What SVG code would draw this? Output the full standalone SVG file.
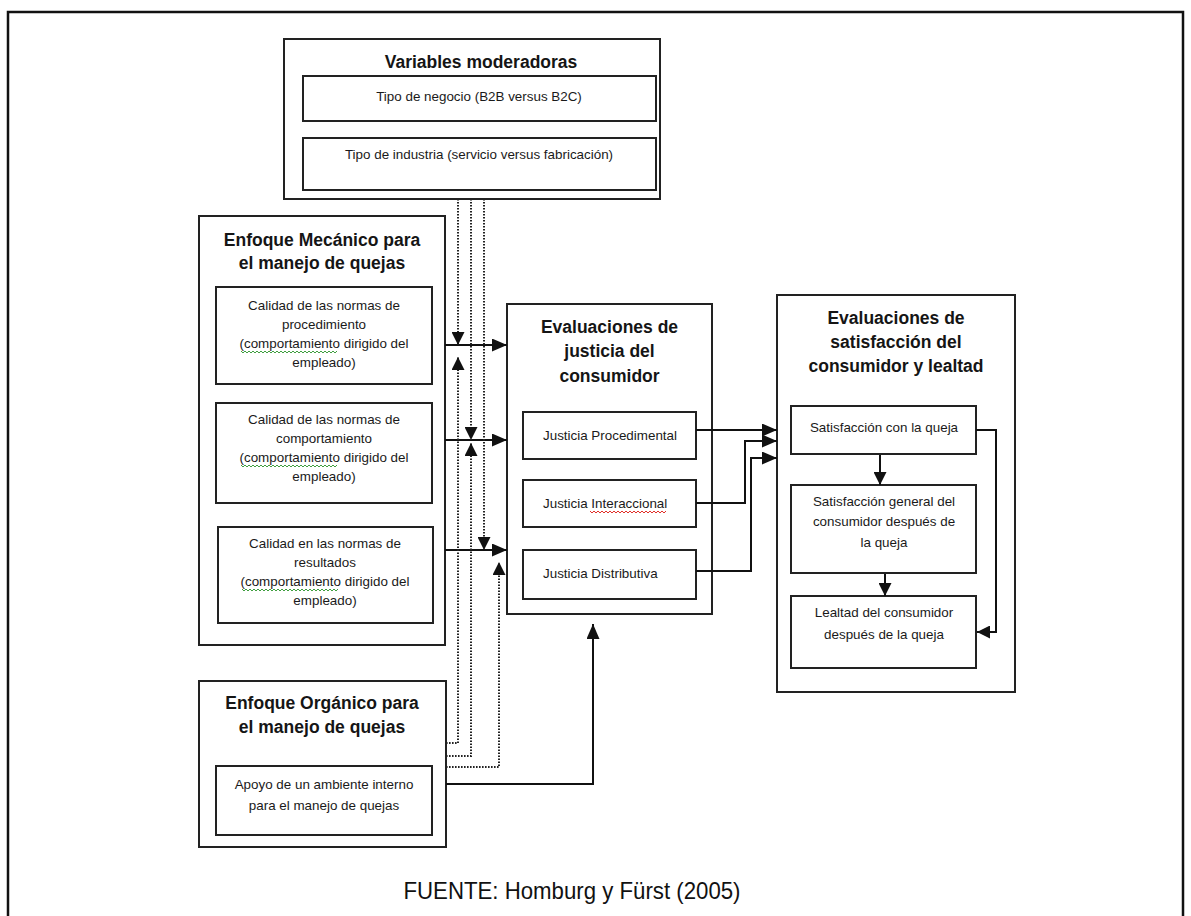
<svg xmlns="http://www.w3.org/2000/svg" width="1191" height="916" viewBox="0 0 1191 916">
  <style>
    .frame { fill: none; stroke: #111; stroke-width: 2.5; }
    .outer { fill: #fff; stroke: #222; stroke-width: 2; }
    .inner { fill: #fff; stroke: #222; stroke-width: 2; }
    .title { font-family: "Liberation Sans", Arial, sans-serif; font-weight: bold; font-size: 17.5px; fill: #151515; text-anchor: middle; }
    .body { font-family: "Liberation Sans", Arial, sans-serif; font-size: 13.4px; fill: #1a1a1a; text-anchor: middle; }
    .left { text-anchor: start; }
    .src { font-family: "Liberation Sans", Arial, sans-serif; font-size: 24px; fill: #111; text-anchor: middle; }
    .solid { fill: none; stroke: #111; stroke-width: 2; }
    .dotted { fill: none; stroke: #222; stroke-width: 2; stroke-dasharray: 1.6 1.4; }
    .squig-g { fill: none; stroke: #3f9e3f; stroke-width: 1; }
    .squig-r { fill: none; stroke: #e0302a; stroke-width: 1; }
  </style>
  <defs>
    <marker id="tri" viewBox="0 0 15 13" refX="15" refY="6.5" markerWidth="15" markerHeight="13" markerUnits="userSpaceOnUse" orient="auto">
      <path d="M0,0 L15,6.5 L0,13 Z" fill="#111"/>
    </marker>
    <marker id="triS" viewBox="0 0 13 13" refX="13" refY="6.5" markerWidth="13" markerHeight="13" markerUnits="userSpaceOnUse" orient="auto">
      <path d="M0,0 L13,6.5 L0,13 Z" fill="#111"/>
    </marker>
  </defs>

  <rect width="1191" height="916" fill="#fff"/>
  <!-- page frame -->
  <rect class="frame" x="8" y="12" width="1175" height="930"/>

  <!-- moderating variables -->
  <g id="variables-moderadoras">
    <rect class="outer" x="284" y="39" width="376" height="160"/>
    <text class="title" x="481" y="68">Variables moderadoras</text>
    <rect class="inner" x="303" y="76" width="353" height="45"/>
    <text class="body" x="479" y="101">Tipo de negocio (B2B versus B2C)</text>
    <rect class="inner" x="303" y="138" width="353" height="52"/>
    <text class="body" x="479" y="159">Tipo de industria (servicio versus fabricación)</text>
  </g>

  <!-- mechanistic approach -->
  <g id="enfoque-mecanico">
    <rect class="outer" x="199" y="216" width="246" height="429"/>
    <text class="title" x="322" y="246">Enfoque Mecánico para</text>
    <text class="title" x="322" y="269">el manejo de quejas</text>

    <rect class="inner" x="216" y="287" width="216" height="97"/>
    <text class="body" x="324" y="310">Calidad de las normas de</text>
    <text class="body" x="324" y="329">procedimiento</text>
    <text class="body" x="324" y="348">(comportamiento dirigido del</text>
    <text class="body" x="324" y="367">empleado)</text>
    <path class="squig-g" d="M241,351 l2,2 l2,-2 l2,2 l2,-2 l2,2 l2,-2 l2,2 l2,-2 l2,2 l2,-2 l2,2 l2,-2 l2,2 l2,-2 l2,2 l2,-2 l2,2 l2,-2 l2,2 l2,-2 l2,2 l2,-2 l2,2 l2,-2 l2,2 l2,-2 l2,2 l2,-2 l2,2 l2,-2 l2,2 l2,-2 l2,2 l2,-2 l2,2 l2,-2 l2,2 l2,-2 l2,2 l2,-2 l2,2 l2,-2 l2,2 l2,-2 l2,2 l2,-2 l2,2 l2,-2"/>

    <rect class="inner" x="216" y="403" width="216" height="100"/>
    <text class="body" x="324" y="424">Calidad de las normas de</text>
    <text class="body" x="324" y="443">comportamiento</text>
    <text class="body" x="324" y="462">(comportamiento dirigido del</text>
    <text class="body" x="324" y="481">empleado)</text>
    <path class="squig-g" d="M241,465 l2,2 l2,-2 l2,2 l2,-2 l2,2 l2,-2 l2,2 l2,-2 l2,2 l2,-2 l2,2 l2,-2 l2,2 l2,-2 l2,2 l2,-2 l2,2 l2,-2 l2,2 l2,-2 l2,2 l2,-2 l2,2 l2,-2 l2,2 l2,-2 l2,2 l2,-2 l2,2 l2,-2 l2,2 l2,-2 l2,2 l2,-2 l2,2 l2,-2 l2,2 l2,-2 l2,2 l2,-2 l2,2 l2,-2 l2,2 l2,-2 l2,2 l2,-2 l2,2 l2,-2"/>

    <rect class="inner" x="218" y="527" width="215" height="96"/>
    <text class="body" x="325" y="548">Calidad en las normas de</text>
    <text class="body" x="325" y="567">resultados</text>
    <text class="body" x="325" y="586">(comportamiento dirigido del</text>
    <text class="body" x="325" y="605">empleado)</text>
    <path class="squig-g" d="M242,589 l2,2 l2,-2 l2,2 l2,-2 l2,2 l2,-2 l2,2 l2,-2 l2,2 l2,-2 l2,2 l2,-2 l2,2 l2,-2 l2,2 l2,-2 l2,2 l2,-2 l2,2 l2,-2 l2,2 l2,-2 l2,2 l2,-2 l2,2 l2,-2 l2,2 l2,-2 l2,2 l2,-2 l2,2 l2,-2 l2,2 l2,-2 l2,2 l2,-2 l2,2 l2,-2 l2,2 l2,-2 l2,2 l2,-2 l2,2 l2,-2 l2,2 l2,-2 l2,2 l2,-2"/>
  </g>

  <!-- organic approach -->
  <g id="enfoque-organico">
    <rect class="outer" x="199" y="681" width="247" height="166"/>
    <text class="title" x="322" y="709">Enfoque Orgánico para</text>
    <text class="title" x="322" y="733">el manejo de quejas</text>
    <rect class="inner" x="216" y="766" width="216" height="69"/>
    <text class="body" x="324" y="789">Apoyo de un ambiente interno</text>
    <text class="body" x="324" y="810">para el manejo de quejas</text>
  </g>

  <!-- justice evaluations -->
  <g id="evaluaciones-justicia">
    <rect class="outer" x="507" y="304" width="205" height="310"/>
    <text class="title" x="609.5" y="333">Evaluaciones de</text>
    <text class="title" x="609.5" y="357">justicia del</text>
    <text class="title" x="609.5" y="382">consumidor</text>
    <rect class="inner" x="523" y="412" width="173" height="47"/>
    <text class="body left" x="543" y="440">Justicia Procedimental</text>
    <rect class="inner" x="523" y="480" width="173" height="47"/>
    <text class="body left" x="543" y="508">Justicia Interaccional</text>
    <path class="squig-r" d="M590,511 l2,2 l2,-2 l2,2 l2,-2 l2,2 l2,-2 l2,2 l2,-2 l2,2 l2,-2 l2,2 l2,-2 l2,2 l2,-2 l2,2 l2,-2 l2,2 l2,-2 l2,2 l2,-2 l2,2 l2,-2 l2,2 l2,-2 l2,2 l2,-2 l2,2 l2,-2 l2,2 l2,-2 l2,2 l2,-2 l2,2 l2,-2 l2,2 l2,-2 l2,2 l2,-2"/>
    <rect class="inner" x="523" y="550" width="173" height="49"/>
    <text class="body left" x="543" y="578">Justicia Distributiva</text>
  </g>

  <!-- satisfaction and loyalty -->
  <g id="evaluaciones-satisfaccion">
    <rect class="outer" x="777" y="295" width="238" height="397"/>
    <text class="title" x="896" y="324">Evaluaciones de</text>
    <text class="title" x="896" y="348">satisfacción del</text>
    <text class="title" x="896" y="372">consumidor y lealtad</text>
    <rect class="inner" x="791" y="406" width="185" height="48"/>
    <text class="body" x="884" y="432">Satisfacción con la queja</text>
    <rect class="inner" x="791" y="485" width="185" height="88"/>
    <text class="body" x="884" y="506">Satisfacción general del</text>
    <text class="body" x="884" y="526">consumidor después de</text>
    <text class="body" x="884" y="547">la queja</text>
    <rect class="inner" x="791" y="596" width="185" height="72"/>
    <text class="body" x="884" y="617">Lealtad del consumidor</text>
    <text class="body" x="884" y="639">después de la queja</text>
  </g>

  <!-- source note -->
  <text class="src" x="572" y="899" textLength="337" lengthAdjust="spacingAndGlyphs">FUENTE: Homburg y Fürst (2005)</text>

  <g id="connectors">
    <!-- mechanistic quality norms to justice evaluations -->
    <path class="solid" d="M445,345 H507" marker-end="url(#tri)"/>
    <path class="solid" d="M445,440 H507" marker-end="url(#tri)"/>
    <path class="solid" d="M445,550 H507" marker-end="url(#tri)"/>

    <!-- moderators acting on each link -->
    <path class="dotted" d="M458,199 V345" marker-end="url(#triS)"/>
    <path class="dotted" d="M471,199 V440" marker-end="url(#triS)"/>
    <path class="dotted" d="M484,199 V550" marker-end="url(#triS)"/>

    <!-- organic approach moderating each link -->
    <path class="dotted" d="M446,743 H458 V357" marker-end="url(#triS)"/>
    <path class="dotted" d="M446,756 H471 V443" marker-end="url(#triS)"/>
    <path class="dotted" d="M446,767 H499 V562" marker-end="url(#triS)"/>

    <!-- organic approach to justice evaluations -->
    <path class="solid" d="M446,784 H593 V624" marker-end="url(#tri)"/>

    <!-- justice dimensions to complaint satisfaction -->
    <path class="solid" d="M696,430 H777" marker-end="url(#tri)"/>
    <path class="solid" d="M696,503 H745 V441 H777" marker-end="url(#tri)"/>
    <path class="solid" d="M696,571 H751 V458 H777" marker-end="url(#tri)"/>

    <!-- satisfaction chain -->
    <path class="solid" d="M880,455 V485" marker-end="url(#triS)"/>
    <path class="solid" d="M885,574 V596" marker-end="url(#triS)"/>
    <path class="solid" d="M976,430 H996 V632 H977" marker-end="url(#triS)"/>
  </g>
</svg>
